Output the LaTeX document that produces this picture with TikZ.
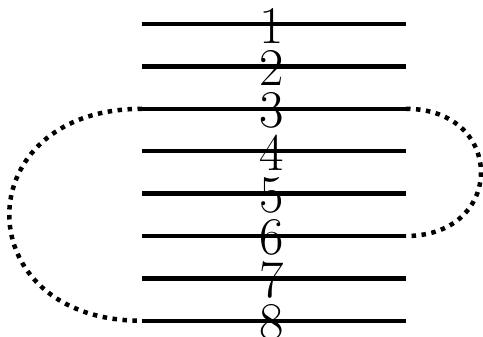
\documentclass[tikz,border=0pt]{standalone}
\usepackage{tikz}
\usetikzlibrary{calc}

\begin{document}
\begin{tikzpicture}[
  x=1pt, y=-1pt,
  rung/.style={line width=4.5pt},
  loopline/.style={line width=4.5pt, dash pattern=on 4.5pt off 5.5pt},
  num/.style={font=\fontsize{53}{53}\selectfont, inner sep=0pt},
]
\useasboundingbox (0,0) rectangle (483,337);
\foreach \i in {1,...,8} {
  \coordinate (l\i) at (142, {24+42.4*(\i-1)});
  \coordinate (r\i) at (406, {24+42.4*(\i-1)});
  \draw[rung] (l\i) -- (r\i);
  \node[num] (n\i) at ($(l\i)!0.5!(r\i)+(-2,1.5)$) {\i};
}
\draw[loopline] (l3) .. controls ($(l3)+(-177,0)$) and ($(l8)+(-177,0)$) .. (l8);
\draw[loopline] (r3) .. controls ($(r3)+(100,0)$) and ($(r6)+(100,0)$) .. (r6);
\end{tikzpicture}
\end{document}
